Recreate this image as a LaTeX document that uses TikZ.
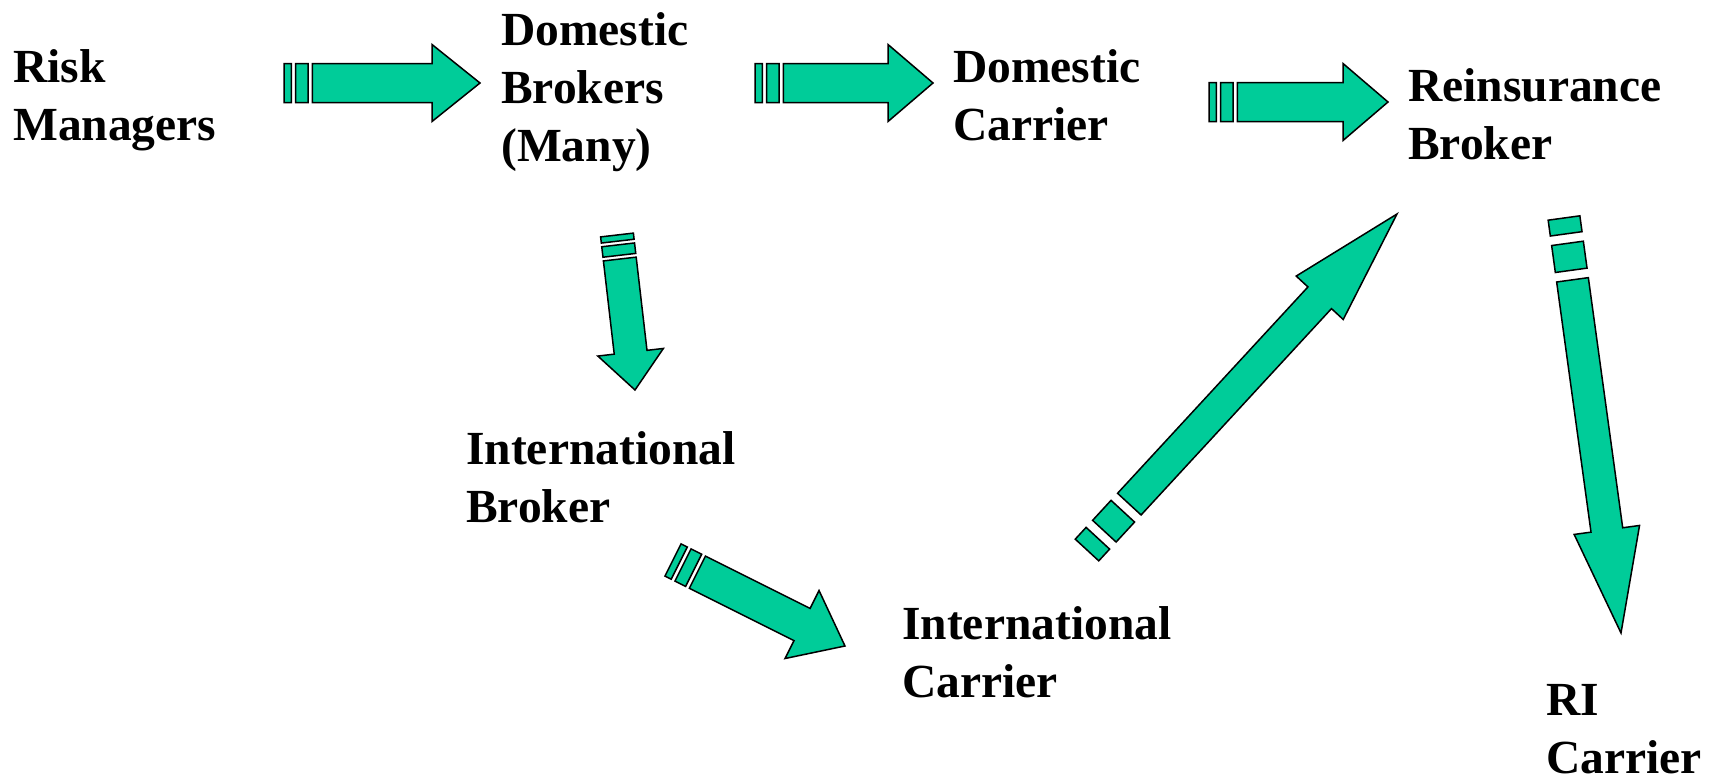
\documentclass[tikz,border=0pt]{standalone}
\usepackage{fontspec}
\setmainfont{Liberation Serif}
\usepackage{xcolor}
\usepackage{tikz}
\usetikzlibrary{calc}
\definecolor{flowgreen}{RGB}{0,204,153}

% striped block arrow: tail, tip, body half width, head half width, head length, stripe unit
\newcommand{\stripedarrow}[6]{%
  \draw[flowarrow] let \p1=($(#2)-(#1)$), \n1={atan2(\y1,\x1)}, \n2={veclen(\x1,\y1)} in
    {[shift={(#1)}, rotate=\n1]
     (0,-#3) -- (#6,-#3) -- (#6,#3) -- (0,#3) -- cycle
     ({1.6*#6},-#3) -- ({3.3*#6},-#3) -- ({3.3*#6},#3) -- ({1.6*#6},#3) -- cycle
     ({3.9*#6},-#3) -- (\n2-#5,-#3) -- (\n2-#5,-#4) -- (\n2,0) -- (\n2-#5,#4)
       -- (\n2-#5,#3) -- ({3.9*#6},#3) -- cycle};
}

\tikzset{
  lbl/.style={font=\bfseries\fontsize{47.5}{58}\selectfont, align=left, inner sep=0pt, anchor=base west},
  flowarrow/.style={fill=flowgreen, draw=black, line width=1.5pt, line join=miter}
}

\begin{document}
\begin{tikzpicture}[x=1pt,y=-1pt]
\useasboundingbox (0,0) rectangle (1727,779);

% labels, placed at the baseline of their last line
\node[lbl] (risk) at (13,140.4) {Risk\\Managers};
\node[lbl] (dombro) at (501,161.4) {Domestic\\Brokers\\(Many)};
\node[lbl] (domcar) at (953,140.4) {Domestic\\Carrier};
\node[lbl] (reibro) at (1408,159) {Reinsurance\\Broker};
\node[lbl] (intbro) at (466,522.6) {International\\Broker};
\node[lbl] (intcar) at (902,697.7) {International\\Carrier};
\node[lbl] (ricar) at (1546,773) {RI\\Carrier};

% arrow ends
\coordinate (t1) at (284,83);   \coordinate (h1) at (480,83);
\coordinate (t2) at (755,83);   \coordinate (h2) at (933,83);
\coordinate (t3) at (1209,102); \coordinate (h3) at (1388,102);
\coordinate (t4) at (617,235);  \coordinate (h4) at (635,390);
\coordinate (t5) at (673,560);  \coordinate (h5) at (845,646);
\coordinate (t6) at (1087,550); \coordinate (h6) at (1397,214);
\coordinate (t7) at (1564,218); \coordinate (h7) at (1621,633);

\stripedarrow{t1}{h1}{19.5}{38.5}{48}{7.3}
\stripedarrow{t2}{h2}{19.5}{38.5}{45}{7.3}
\stripedarrow{t3}{h3}{19.5}{38.5}{45}{7.3}
\stripedarrow{t4}{h4}{16.5}{33}{38}{6.2}
\stripedarrow{t5}{h5}{18}{38}{48}{7}
\stripedarrow{t6}{h6}{16}{32}{114}{16}
\stripedarrow{t7}{h7}{16}{33}{104}{16}
\end{tikzpicture}
\end{document}
